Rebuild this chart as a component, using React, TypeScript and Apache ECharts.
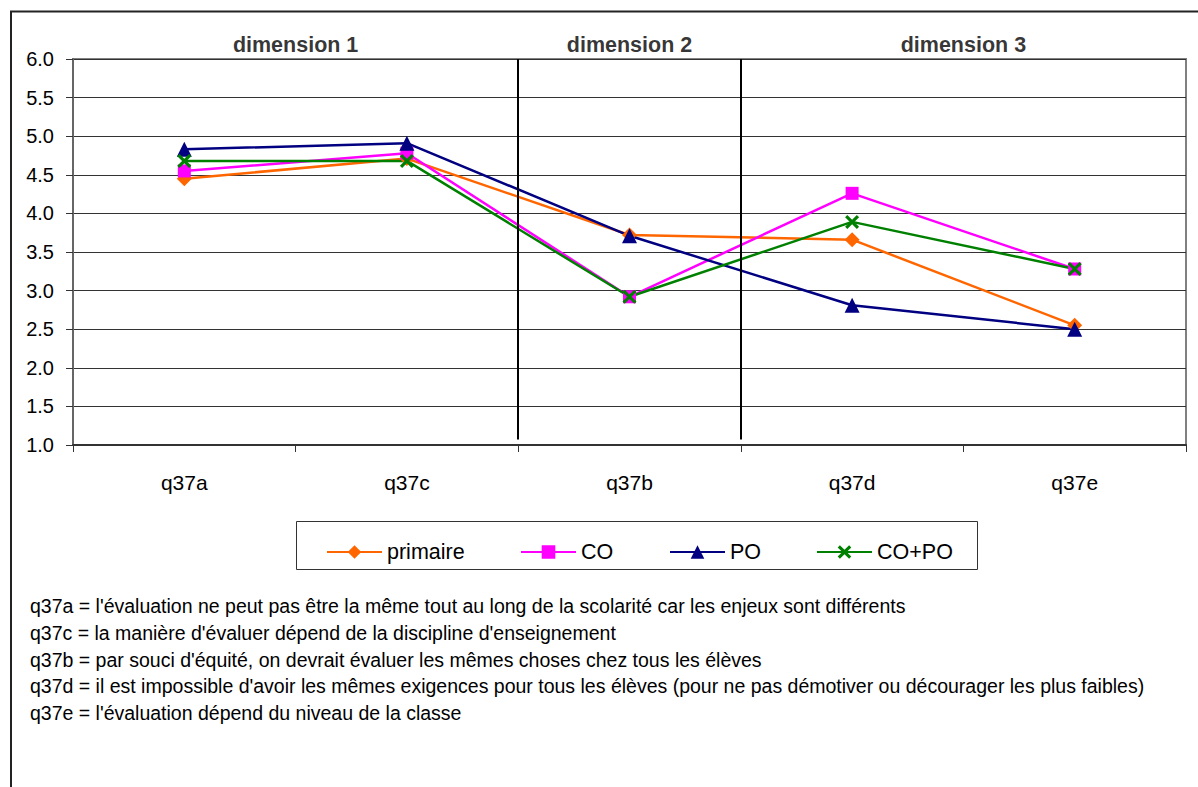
import React, { useEffect, useRef } from "react";
import * as echarts from "echarts";

const CATEGORIES = ["q37a", "q37c", "q37b", "q37d", "q37e"];
const PRIMAIRE = [4.45, 4.71, 3.72, 3.66, 2.55];
const CO = [4.55, 4.78, 2.92, 4.26, 3.28];
const PO = [4.83, 4.91, 3.71, 2.81, 2.5];
const CO_PO = [4.68, 4.68, 2.92, 3.89, 3.28];
const DIMENSIONS = ["dimension 1", "dimension 2", "dimension 3"];
const DIMENSION_POS = [0.5, 2, 3.5];
const SEPARATORS = [1.5, 2.5];
const NOTES = [
  "q37a = l'évaluation ne peut pas être la même tout au long de la scolarité car les enjeux sont différents",
  "q37c = la manière d'évaluer dépend de la discipline d'enseignement",
  "q37b = par souci d'équité, on devrait évaluer les mêmes choses chez tous les élèves",
  "q37d = il est impossible d'avoir les mêmes exigences pour tous les élèves (pour ne pas démotiver ou décourager les plus faibles)",
  "q37e = l'évaluation dépend du niveau de la classe",
];

const FONT = "'Liberation Sans', Arial, sans-serif";
const X_SYMBOL =
  "path://M0,1.6L1.6,0L5,3.4L8.4,0L10,1.6L6.6,5L10,8.4L8.4,10L5,6.6L1.6,10L0,8.4L3.4,5Z";

export default function App() {
  const ref = useRef<HTMLDivElement>(null);
  useEffect(() => {
    document.body.style.margin = "0";
    const chart = echarts.init(ref.current!, null, { renderer: "svg" });
    const mk = (name: string, data: number[], color: string, symbol: string, size: number) => ({
      name,
      type: "line",
      data,
      symbol,
      symbolSize: size,
      lineStyle: { color, width: 2.5 },
      itemStyle: { color },
      z: 3,
    });
    const legendBase = {
      top: 536,
      itemWidth: 55,
      itemHeight: 17,
      itemGap: 0,
      textStyle: { fontFamily: FONT, fontSize: 21.5, color: "#000" },
      selectedMode: false,
    };
    chart.setOption({
      animation: false,
      backgroundColor: "#fff",
      textStyle: { fontFamily: FONT },
      grid: {
        left: 73,
        top: 59,
        right: 12,
        bottom: 342,
        show: true,
        borderColor: "#808080",
        borderWidth: 2,
        containLabel: false,
      },
      xAxis: [
        {
          type: "category",
          data: CATEGORIES,
          boundaryGap: true,
          axisLine: { onZero: false, lineStyle: { color: "#333", width: 2 } },
          axisTick: { show: true, length: 7, lineStyle: { color: "#333", width: 1 } },
          axisLabel: { color: "#000", fontSize: 21, fontFamily: FONT, margin: 27 },
          splitLine: { show: false },
        },
        {
          type: "value",
          min: -0.5,
          max: 4.5,
          show: false,
          axisLine: { show: false, onZero: false },
          splitLine: { show: false },
        },
      ],
      yAxis: {
        type: "value",
        min: 1,
        max: 6,
        interval: 0.5,
        axisLine: { show: true, onZero: false, lineStyle: { color: "#666", width: 2 } },
        axisTick: { show: true, length: 7, lineStyle: { color: "#333" } },
        axisLabel: {
          color: "#000",
          fontSize: 20,
          fontFamily: FONT,
          margin: 19,
          formatter: (v: number) => v.toFixed(1),
        },
        splitLine: { show: true, lineStyle: { color: "#333", width: 1 } },
      },
      legend: [
        { ...legendBase, left: 321, data: ["primaire"] },
        { ...legendBase, left: 515, data: ["CO"] },
        { ...legendBase, left: 664, data: ["PO"] },
        { ...legendBase, left: 811, data: ["CO+PO"] },
      ],
      series: [
        mk("primaire", PRIMAIRE, "#FF6600", "diamond", 15),
        mk("CO", CO, "#FF00FF", "rect", 13),
        mk("PO", PO, "#000080", "triangle", 15),
        mk("CO+PO", CO_PO, "#008000", X_SYMBOL, 14),
        {
          type: "scatter",
          xAxisIndex: 1,
          yAxisIndex: 0,
          clip: false,
          silent: true,
          symbolSize: 1,
          itemStyle: { color: "rgba(0,0,0,0)" },
          data: DIMENSION_POS.map((x, i) => ({ value: [x, 6], name: DIMENSIONS[i] })),
          label: {
            show: true,
            position: "top",
            distance: 3,
            formatter: "{b}",
            fontFamily: FONT,
            fontSize: 21.5,
            fontWeight: "bold",
            color: "#000",
          },
          markLine: {
            silent: true,
            symbol: "none",
            label: { show: false },
            lineStyle: { color: "#000", width: 2, type: "solid" },
            data: SEPARATORS.map((x) => [{ coord: [x, 6] }, { coord: [x, 1.07] }]),
          },
        },
      ],
      graphic: {
        elements: [
          {
            type: "polyline",
            shape: {
              points: [
                [11, 787],
                [11, 11.5],
                [1198, 11.5],
              ],
            },
            style: { stroke: "#222", lineWidth: 2, fill: null },
            silent: true,
            z: 10,
          },
          {
            type: "rect",
            shape: { x: 296.5, y: 521.5, width: 681, height: 48 },
            style: { fill: "none", stroke: "#333", lineWidth: 1 },
            silent: true,
          },
          {
            type: "text",
            x: 30,
            y: 593,
            style: {
              text: NOTES.join("\n"),
              font: `19.5px ${FONT}`,
              lineHeight: 26.7,
              fill: "#000",
            },
            silent: true,
          },
        ],
      },
    });
    return () => chart.dispose();
  }, []);
  return <div ref={ref} style={{ width: 1198, height: 787 }} />;
}
